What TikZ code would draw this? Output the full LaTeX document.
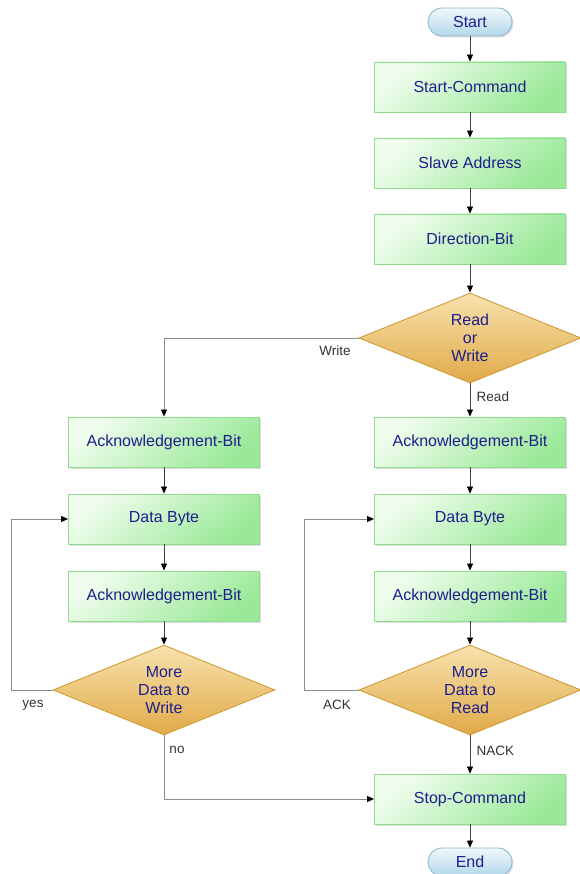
\documentclass[tikz,border=0pt]{standalone}
\usepackage{fontspec}
\setmainfont{Liberation Sans}
\usetikzlibrary{arrows.meta, shapes.geometric, shadows}

\definecolor{textblue}{HTML}{1E1E8C}
\definecolor{boxlight}{HTML}{F0FDEE}
\definecolor{boxdark}{HTML}{9AE998}
\definecolor{boxline}{HTML}{8EDC8C}
\definecolor{diamlight}{HTML}{F8E2AE}
\definecolor{diamdark}{HTML}{E0AA48}
\definecolor{diamline}{HTML}{D09C38}
\definecolor{termlight}{HTML}{F0F8FC}
\definecolor{termdark}{HTML}{B4D8EA}
\definecolor{termline}{HTML}{8CB6CE}

\begin{document}
\begin{tikzpicture}[
    x=1pt, y=-1pt,
    >={Triangle[length=7pt, width=6pt, black]},
    txt/.style={text=textblue, font=\fontsize{16}{18}\selectfont, align=center, inner sep=0pt},
    box/.style={txt, draw=boxline, line width=0.9pt, top color=boxlight, bottom color=boxdark, shading angle=40,
      minimum width=191pt, minimum height=50pt,
      drop shadow={shadow xshift=1.5pt, shadow yshift=-1.5pt, opacity=0.25}},
    decision/.style={txt, diamond, aspect=2.47, minimum width=222pt, minimum height=90pt,
      draw=diamline, line width=0.9pt, top color=diamlight, bottom color=diamdark},
    terminal/.style={txt, draw=termline, line width=0.9pt, rounded corners=14pt, top color=termlight, bottom color=termdark,
      minimum width=84pt, minimum height=28pt,
      drop shadow={shadow xshift=1.5pt, shadow yshift=-1.5pt, opacity=0.25}},
    flow/.style={->, draw=black!75, line width=0.8pt},
    back/.style={->, draw=black!45, line width=0.8pt},
    lbl/.style={font=\fontsize{13.5}{16}\selectfont, text=black!80},
  ]
  \useasboundingbox (0,0) rectangle (579,874);
  % main column
  \node[terminal] (start) at (470,22) {Start};
  \node[box] (startcmd) at (470,87) {Start-Command};
  \node[box] (slave) at (470,163) {Slave Address};
  \node[box] (dir) at (470,239) {Direction-Bit};
  \node[decision] (rw) at (470,338) {Read\\or\\Write};
  % read branch
  \node[box] (rack) at (470,442) {Acknowledgement-Bit};
  \node[box] (rdata) at (470,519) {Data Byte};
  \node[box] (rack2) at (470,596) {Acknowledgement-Bit};
  \node[decision] (rmore) at (470,690) {More\\Data to\\Read};
  % write branch
  \node[box] (wack) at (164,442) {Acknowledgement-Bit};
  \node[box] (wdata) at (164,519) {Data Byte};
  \node[box] (wack2) at (164,596) {Acknowledgement-Bit};
  \node[decision] (wmore) at (164,690) {More\\Data to\\Write};
  % end
  \node[box] (stop) at (470,799) {Stop-Command};
  \node[terminal] (end) at (470,862) {End};
  % connectors
  \draw[flow] (start) -- (startcmd);
  \draw[flow] (startcmd) -- (slave);
  \draw[flow] (slave) -- (dir);
  \draw[flow] (dir) -- (rw);
  \draw[flow] (rw) -- node[lbl, pos=0.4, right=3pt] {Read} (rack);
  \draw[back] (rw.west) -| (wack.north);
  \node[lbl] (wlbl) at (335,351) {Write};
  \draw[flow] (rack) -- (rdata);
  \draw[flow] (rdata) -- (rack2);
  \draw[flow] (rack2) -- (rmore);
  \draw[flow] (rmore) -- node[lbl, pos=0.4, right=3pt] {NACK} (stop);
  \draw[flow] (wack) -- (wdata);
  \draw[flow] (wdata) -- (wack2);
  \draw[flow] (wack2) -- (wmore);
  % loops
  \draw[back] (wmore.west) -- ++(-41,0) |- (wdata.west);
  \node[lbl] (yes) at (33,705) {yes};
  \draw[back] (rmore.west) -- ++(-54,0) |- (rdata.west);
  \node[lbl] (ack) at (337,705) {ACK};
  \draw[back] (wmore.south) |- (stop.west);
  \node[lbl] (no) at (177,750) {no};
  \draw[flow] (stop) -- (end);
\end{tikzpicture}
\end{document}
